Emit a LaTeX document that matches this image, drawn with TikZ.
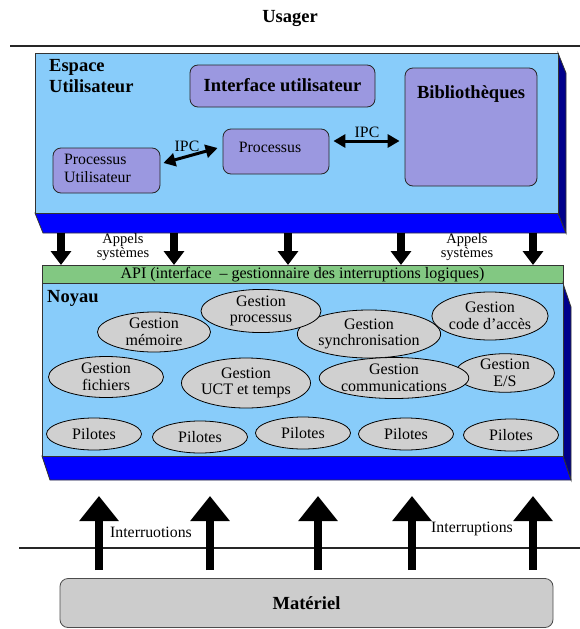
\documentclass[tikz,border=0pt]{standalone}
\usepackage{fontspec}
\setmainfont{Liberation Serif}
\usetikzlibrary{arrows.meta,shapes.geometric}

\definecolor{skyfill}{HTML}{88CCFA}
\definecolor{bandblue}{HTML}{0000FF}
\definecolor{sidenavy}{HTML}{00008B}
\definecolor{procfill}{HTML}{9B98E0}
\definecolor{apigreen}{HTML}{82C882}
\definecolor{modgray}{HTML}{D0D0D0}
\definecolor{hwgray}{HTML}{CCCCCC}

\tikzset{
  txt/.style={font=\fontsize{15.8}{17.5}\selectfont, inner sep=0pt},
  boldtxt/.style={font=\fontsize{18.5}{21}\selectfont\bfseries, inner sep=0pt},
  smalltxt/.style={font=\fontsize{14.5}{13.5}\selectfont, inner sep=0pt, align=center},
  front/.style={fill=skyfill, draw=black!80, line width=0.8pt},
  bottomface/.style={fill=bandblue, draw=black!80, line width=0.8pt},
  sideface/.style={fill=sidenavy, draw=black!80, line width=0.8pt},
  procbox/.style={rectangle, rounded corners=8pt, fill=procfill, draw=black!85,
    line width=0.8pt, inner sep=0pt},
  module/.style={ellipse, fill=modgray, draw=black, line width=0.8pt, inner sep=0pt,
    font=\fontsize{16}{16.5}\selectfont, align=center},
  ipc/.style={line width=3pt, {Triangle[width=13pt,length=12pt]}-{Triangle[width=13pt,length=12pt]}},
  callarrow/.style={line width=8pt, -{Triangle[width=20pt,length=14pt]}},
  irqarrow/.style={line width=7.5pt, -{Triangle[width=38pt,length=25pt]}},
  rule/.style={line width=2.2pt, draw=black!85},
}

\begin{document}
\begin{tikzpicture}[x=1pt, y=-1pt]
\useasboundingbox (0,0) rectangle (580,629);

% ---- user level ----
\node[boldtxt] (usager) at (290,18) {Usager};
\draw[rule] (10,46) -- (580,46);

% user space block (front, bottom and side faces)
\draw[bottomface] (35,213) -- (558,213) -- (566,233) -- (43,233) -- cycle;
\draw[sideface] (558,53) -- (566,73) -- (566,233) -- (558,213) -- cycle;
\draw[front] (35,53) rectangle (558,213);

\node[boldtxt, align=left, anchor=north west] (espace) at (49,59) {Espace\\Utilisateur};

\node[procbox, minimum width=185pt, minimum height=42pt, text depth=3pt,
  font=\fontsize{18.5}{21}\selectfont\bfseries] (ui) at (282.5,86) {Interface utilisateur};
\node[procbox, minimum width=132pt, minimum height=118pt] (bib) at (471,127) {};
\node[boldtxt] (bibtxt) at (471,94) {Bibliothèques};
\node[procbox, minimum width=107pt, minimum height=45pt] (pu) at (106.5,170.5) {};
\node[txt, align=left, anchor=north west] (putxt) at (64,154) {Processus\\Utilisateur};
\node[procbox, minimum width=106pt, minimum height=45pt] (proc) at (276,151.5) {};
\node[txt] (proctxt) at (270,147) {Processus};

\draw[ipc] ([xshift=3pt,yshift=7.5pt]pu.east) -- ([xshift=-5pt,yshift=3.5pt]proc.west);
\node[txt] (ipc1) at (187,146) {IPC};
\draw[ipc] ([xshift=4pt,yshift=10.5pt]proc.east) -- ([xshift=-5pt,yshift=-14pt]bib.west);
\node[txt] (ipc2) at (367,132) {IPC};

% ---- system calls ----
\foreach \i/\x in {1/61,2/174,3/288,4/401,5/533}{
  \coordinate (c\i) at (\x,233);
  \coordinate (a\i) at (\x,265);
}
\foreach \i in {1,...,5}{\draw[callarrow] (c\i) -- (a\i);}
\node[smalltxt] (appels1) at (123,247) {Appels\\systèmes};
\node[smalltxt] (appels2) at (467,247) {Appels\\systèmes};

% API bar
\node[rectangle, fill=apigreen, draw=black!80, line width=0.8pt,
  minimum width=521pt, minimum height=18pt, inner sep=0pt,
  font=\fontsize{16}{17}\selectfont] (api) at (302.5,274.5)
  {API (interface \ -- gestionnaire des interruptions logiques)};

% ---- kernel block ----
\draw[bottomface] (42,456) -- (563,456) -- (571,480) -- (50,480) -- cycle;
\draw[sideface] (563,283.5) -- (571,307) -- (571,480) -- (563,456) -- cycle;
\draw[front] (42,283.5) rectangle (563,456);

\node[boldtxt, anchor=north west] (noyau) at (47,290) {Noyau};

\node[module, minimum width=113pt, minimum height=40pt] (gmem) at (154,332) {Gestion\\mémoire};
\node[module, minimum width=128pt, minimum height=48pt] (gsync) at (369,334) {Gestion\\synchronisation};
\node[module, minimum width=120pt, minimum height=38pt] (gproc) at (261,311) {Gestion\\processus};
\node[module, minimum width=114pt, minimum height=48pt] (gcode) at (490,316) {Gestion\\code d’accès};
\node[module, minimum width=115pt, minimum height=41pt] (gfich) at (106,377) {Gestion\\fichiers};
\node[module, minimum width=129pt, minimum height=50pt] (guct) at (246,383) {Gestion\\UCT et temps};
\node[module, minimum width=99pt, minimum height=37pt] (ges) at (505,373) {Gestion\\E/S};
\node[module, minimum width=145pt, minimum height=41pt] (gcomm) at (394,378) {Gestion\\communications};

\foreach \i/\x/\y in {1/94/434,2/200/437,3/303/433,4/406/434,5/511/435}{
  \node[module, minimum width=95pt, minimum height=32pt] (pil\i) at (\x,\y) {Pilotes};
}

% ---- hardware level ----
\draw[rule] (19,548) -- (580,548);
\node[rectangle, rounded corners=8pt, fill=hwgray, draw=black!70, line width=0.8pt,
  minimum width=493pt, minimum height=49pt, inner sep=0pt,
  font=\fontsize{18.5}{21}\selectfont\bfseries] (mat) at (306.5,603) {Matériel};

\foreach \i/\x in {1/99,2/210,3/318,4/412,5/533}{
  \coordinate (h\i) at (\x,570);
  \coordinate (k\i) at (\x,496);
}
\foreach \i in {1,...,5}{\draw[irqarrow] (h\i) -- (k\i);}

\node[txt] (irq1) at (151,532) {Interruotions};
\node[txt] (irq2) at (472,529) {Interruptions};

\end{tikzpicture}
\end{document}
